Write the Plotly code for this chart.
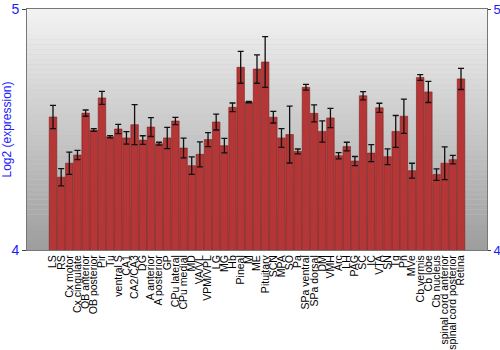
import plotly.graph_objects as go

regions = ["LS", "RS", "Cx motor", "Cx cingulate", "OB anterior", "OB posterior", "Pir", "Tu",
           "ventral S", "CA1", "CA2/CA3", "DG", "A anterior", "A posterior", "GP", "CPu lateral",
           "CPu medial", "MD", "VA/VL", "VPM/VPL", "LG", "MG", "Hb", "Pineal", "M", "ME",
           "Pituitary", "SCN", "MPA", "SO", "Pa", "SPa ventral", "SPa dorsal", "DM", "VMH", "Arc",
           "LH", "PAG", "SC", "IC", "VTA", "SN", "Tg", "Pn", "MVe", "Cb vermis", "Cb lobe",
           "Cb nucleus", "spinal cord anterior", "spinal cord posterior", "Retina"]

expression = [4.552, 4.302, 4.360, 4.394, 4.568, 4.498, 4.631, 4.470,
              4.502, 4.465, 4.520, 4.456, 4.510, 4.441, 4.465, 4.535,
              4.423, 4.350, 4.397, 4.458, 4.531, 4.433, 4.592, 4.758, 4.614, 4.751,
              4.780, 4.551, 4.465, 4.479, 4.409, 4.675, 4.567, 4.492, 4.548, 4.391,
              4.429, 4.369, 4.640, 4.402, 4.590, 4.387, 4.492, 4.555, 4.329, 4.716, 4.656,
              4.313, 4.360, 4.375, 4.710]

error = [0.048, 0.036, 0.046, 0.019, 0.013, 0.006, 0.027, 0.005,
         0.019, 0.026, 0.083, 0.018, 0.039, 0.006, 0.044, 0.015,
         0.041, 0.036, 0.052, 0.029, 0.033, 0.030, 0.018, 0.066, 0.003, 0.059,
         0.105, 0.024, 0.039, 0.118, 0.010, 0.012, 0.035, 0.044, 0.040, 0.013,
         0.018, 0.019, 0.017, 0.035, 0.019, 0.033, 0.066, 0.071, 0.031, 0.012, 0.044,
         0.024, 0.068, 0.018, 0.044]

y_ticks = [4, 5]

fig = go.Figure()
fig.add_trace(go.Bar(
    x=regions, y=expression,
    marker=dict(color="#b53636", line=dict(color="#7e1e1e", width=0.6)),
    error_y=dict(type="data", array=error, visible=True, color="#111111", thickness=1.3, width=3),
    width=0.92,
    showlegend=False,
))
# invisible companion so the right-hand axis is drawn
fig.add_trace(go.Scatter(
    x=regions, y=expression, yaxis="y2", mode="markers",
    marker=dict(opacity=0, size=1), hoverinfo="skip", showlegend=False,
))

# gradient plot background
n = 48
top = (242, 242, 242)
bot = (158, 158, 158)
shapes = []
for i in range(n):
    t = i / (n - 1)
    c = tuple(int(round(bot[k] + (top[k] - bot[k]) * t)) for k in range(3))
    shapes.append(dict(type="rect", xref="x domain", yref="y domain",
                       x0=0, x1=1, y0=i / n, y1=(i + 1) / n,
                       fillcolor="rgb(%d,%d,%d)" % c, line=dict(width=0), layer="below"))

fig.update_layout(
    width=500, height=350,
    margin=dict(l=27, r=13, t=9, b=100),
    paper_bgcolor="white", plot_bgcolor="#cccccc",
    shapes=shapes,
    bargap=0.08,
    font=dict(family="Liberation Sans, Arial, sans-serif", size=10.5, color="black"),
    xaxis=dict(tickangle=-90, tickmode="array", tickvals=regions, ticktext=regions,
               tickfont=dict(size=10.5, color="black"), showgrid=False,
               showline=True, linecolor="#777777", mirror=True, ticks="", ticklen=0,
               automargin=False),
    yaxis=dict(range=[4, 5], tickvals=y_ticks, ticktext=[str(v) for v in y_ticks],
               tickfont=dict(size=14, color="#1a1aff"), showgrid=False, zeroline=False,
               showline=True, linecolor="#777777", mirror=True, ticks="outside", ticklen=4,
               tickcolor="#444444",
               title=dict(text="Log2 (expression)", font=dict(size=12, color="#1a1aff"), standoff=2),
               automargin=False),
    yaxis2=dict(range=[4, 5], tickvals=y_ticks, ticktext=[str(v) for v in y_ticks],
                overlaying="y", side="right",
                tickfont=dict(size=13, color="#1a1aff"), showgrid=False, zeroline=False,
                ticks="outside", ticklen=3, tickcolor="#444444", showline=False,
                automargin=False),
)

fig.write_html("out.html")
